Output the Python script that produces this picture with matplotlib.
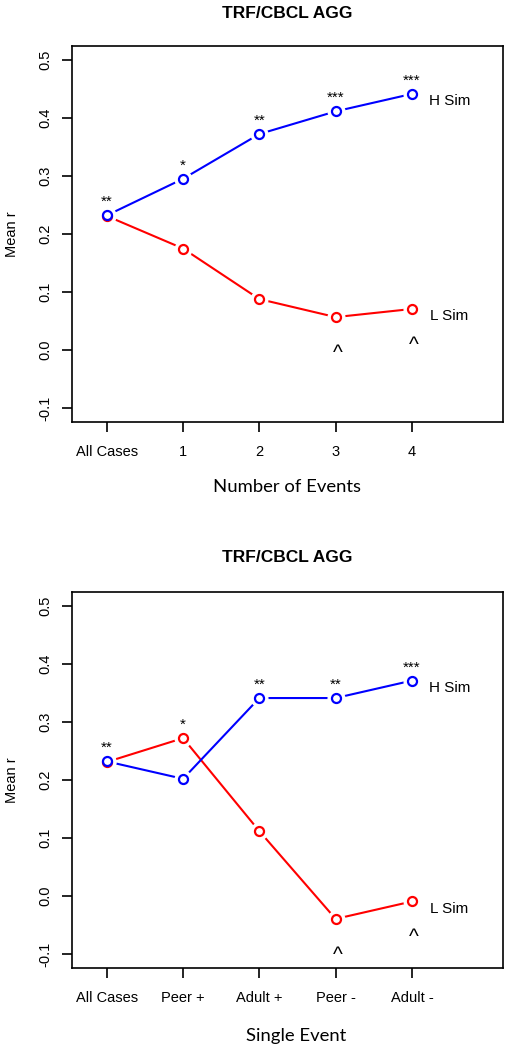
import numpy as np
import matplotlib
matplotlib.use("Agg")
import matplotlib.pyplot as plt

# values
title = "TRF/CBCL AGG"
ylab = "Mean r"
xlab_top = "Number of Events"
xlab_bot = "Single Event"
ticks_top = ["All Cases", "1", "2", "3", "4"]
ticks_bot = ["All Cases", "Peer +", "Adult +", "Peer -", "Adult -"]

hsim_top = [0.232, 0.295, 0.372, 0.411, 0.441]
lsim_top = [0.231, 0.175, 0.088, 0.057, 0.071]
stars_top = ["**", "*", "**", "***", "***"]
caret_top = ["", "", "", "^", "^"]

hsim_bot = [0.232, 0.202, 0.341, 0.341, 0.371]
lsim_bot = [0.231, 0.272, 0.112, -0.039, -0.009]
stars_bot = ["**", "*", "**", "**", "***"]
caret_bot = ["", "", "", "^", "^"]

plt.rcParams['font.family'] = ['Liberation Sans', 'DejaVu Sans']

W, H = 507, 1050
fig = plt.figure(figsize=(W / 100, H / 100), dpi=100)


def series(ax, x, y, color):
    ax.plot(x, y, color=color, lw=1.5, zorder=2)
    # white ring to mimic R type="b" gaps around the points
    ax.plot(x, y, ls="none", marker="o", ms=12, mfc="white", mec="white", zorder=3)
    ax.plot(x, y, ls="none", marker="o", ms=6.5, mfc="white", mec=color, mew=1.6, zorder=4)


def panel(rect, hsim, lsim, stars, carets, ticks, xlab, title_y, xlab_xy):
    ax = fig.add_axes(rect)
    x = np.arange(1, len(ticks) + 1)
    series(ax, x, lsim, "red")
    series(ax, x, hsim, "blue")
    top = np.maximum(hsim, lsim)
    for xi, t, s in zip(x, top, stars):
        ax.text(xi, t + 0.016, s, ha="center", va="baseline", fontsize=11)
    for xi, l, c in zip(x, lsim, carets):
        if c:
            ax.text(xi + 0.03, l - 0.072, c, ha="center", va="baseline", fontsize=15)
    ax.text(x[-1] + 0.49, hsim[-1] - 0.0195, "H Sim", ha="center", va="baseline", fontsize=11)
    ax.text(x[-1] + 0.49, lsim[-1] - 0.0195, "L Sim", ha="center", va="baseline", fontsize=11)
    ax.set_xlim(0.54, 6.19)
    ax.set_ylim(-0.124, 0.524)
    ax.set_xticks(x)
    ax.set_xticklabels(ticks, fontsize=10.5)
    yt = [-0.1, 0.0, 0.1, 0.2, 0.3, 0.4, 0.5]
    ax.set_yticks(yt)
    ax.set_yticklabels([f"{v:.1f}" for v in yt], fontsize=10.5, rotation=90, va="center")
    ax.tick_params(axis="x", length=7, width=1.2, pad=9)
    ax.tick_params(axis="y", length=7, width=1.2, pad=7)
    for sp in ax.spines.values():
        sp.set_linewidth(1.2)
    cx = rect[0] + rect[2] / 2
    cy = rect[1] + rect[3] / 2
    fig.text(12 / W, cy, ylab, rotation=90, ha="center", va="center", fontsize=10.5)
    fig.text(cx, title_y, title, ha="center", va="center", fontsize=12.5, fontweight="bold")
    fig.text(xlab_xy[0], xlab_xy[1], xlab, ha="center", va="center", fontsize=13.3,
             family=["Lato", "DejaVu Sans"])
    return ax


panel([0.1414, 0.5978, 0.8501, 0.3587], hsim_top, lsim_top, stars_top, caret_top,
      ticks_top, xlab_top, 1 - 13 / H, (287 / W, 1 - 487 / H))
panel([0.1414, 0.0778, 0.8501, 0.3587], hsim_bot, lsim_bot, stars_bot, caret_bot,
      ticks_bot, xlab_bot, 1 - 557.7 / H, (296 / W, 1 - 1035.7 / H))

fig.savefig("out.png", dpi=100)
